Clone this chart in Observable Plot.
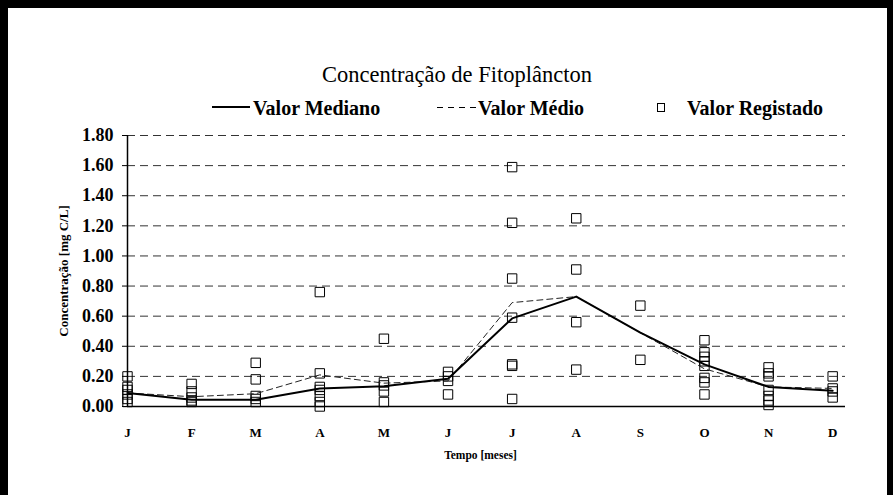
<!DOCTYPE html>
<html><head><meta charset="utf-8">
<script src="https://cdn.jsdelivr.net/npm/d3@7"></script>
<script src="https://cdn.jsdelivr.net/npm/@observablehq/plot@0.6"></script>
<style>
body{margin:0;background:#fff;}
#wrap{position:relative;width:893px;height:495px;overflow:hidden;font-family:"Liberation Serif",serif;color:#000;}
#frame{position:absolute;left:0;top:0;width:893px;height:495px;box-sizing:border-box;border-left:8px solid #000;border-top:8px solid #000;border-right:6px solid #000;pointer-events:none;}
#title{position:absolute;top:62px;left:257px;width:400px;text-align:center;font-size:22.5px;line-height:26px;}
.lg{position:absolute;top:97px;font-size:20px;line-height:23px;font-weight:bold;white-space:nowrap;}
.sw{position:absolute;}
#chart{position:absolute;left:0;top:120px;}
</style></head>
<body>
<div id="wrap">
  <div id="title">Concentração de Fitoplâncton</div>
  <div class="sw" style="left:212px;top:106px;width:38px;height:0;border-top:2px solid #000;"></div>
  <div class="lg" style="left:253px;">Valor Mediano</div>
  <div class="sw" style="left:437px;top:107px;width:41px;height:1px;background:repeating-linear-gradient(90deg,#000 0 6px,transparent 6px 11px);"></div>
  <div class="lg" style="left:478px;">Valor Médio</div>
  <div class="sw" style="left:657px;top:103px;width:6px;height:7px;border:1px solid #000;"></div>
  <div class="lg" style="left:687px;">Valor Registado</div>
  <div id="chart"></div>
  <div id="frame"></div>
</div>
<script>
const months = ["J","F","M","A","M","J","J","A","S","O","N","D"];
const yTicks = [0, 0.2, 0.4, 0.6, 0.8, 1.0, 1.2, 1.4, 1.6, 1.8];
const medianValues = [0.09, 0.045, 0.045, 0.12, 0.135, 0.185, 0.585, 0.73, 0.49, 0.28, 0.13, 0.105];
const meanValues   = [0.09, 0.065, 0.085, 0.21, 0.155, 0.17, 0.69, 0.73, 0.49, 0.25, 0.13, 0.12];
const registered = [
  [0.20, 0.13, 0.11, 0.08, 0.05, 0.03],
  [0.15, 0.10, 0.06, 0.04, 0.03],
  [0.29, 0.18, 0.07, 0.05, 0.03],
  [0.76, 0.22, 0.13, 0.11, 0.07, 0.03, 0.00],
  [0.45, 0.16, 0.14, 0.10, 0.03],
  [0.23, 0.20, 0.17, 0.08],
  [1.59, 1.22, 0.85, 0.59, 0.28, 0.27, 0.05],
  [1.25, 0.91, 0.56, 0.245],
  [0.67, 0.31],
  [0.44, 0.36, 0.33, 0.30, 0.27, 0.19, 0.16, 0.08],
  [0.26, 0.22, 0.20, 0.11, 0.07, 0.04, 0.01],
  [0.20, 0.12, 0.10, 0.06]
];

const series = months.map((m, i) => ({i, median: medianValues[i], mean: meanValues[i]}));
const points = registered.flatMap((vals, i) => vals.map(v => ({i, v})));

const chart = Plot.plot({
  width: 893,
  height: 375,
  marginLeft: 127,
  marginRight: 48,
  marginTop: 15,
  marginBottom: 89,
  style: {fontFamily: "Liberation Serif", background: "transparent", color: "#000"},
  x: {domain: [0, 11.2]},
  y: {domain: [0, 1.8]},
  marks: [
    Plot.ruleY(yTicks.filter(d => d > 0), {stroke: "#333", strokeWidth: 1, strokeDasharray: "8,5"}),
    Plot.axisY({ticks: yTicks, tickFormat: d => d.toFixed(2), tickSize: 5, tickPadding: 9, fontSize: 18, fontWeight: "bold", label: null}),
    Plot.axisX({ticks: d3.range(12), tickFormat: i => months[i], tickSize: 0, tickPadding: 21, fontSize: 13, fontWeight: "bold", label: null}),
    Plot.text(["Tempo [meses]"], {text: d => d, frameAnchor: "bottom", dx: -6, dy: 52, fontSize: 11.5, fontWeight: "bold"}),
    Plot.text(["Concentração [mg C/L]"], {text: d => d, frameAnchor: "left", textAnchor: "middle", dx: -64, rotate: -90, fontSize: 13, fontWeight: "bold"}),
    Plot.dot(points, {x: "i", y: "v", symbol: "square", r: 5.3, stroke: "#000", strokeWidth: 1, fill: "none"}),
    Plot.line(series, {x: "i", y: "mean", stroke: "#222", strokeWidth: 1, strokeDasharray: "6,4"}),
    Plot.line(series, {x: "i", y: "median", stroke: "#000", strokeWidth: 2}),
    Plot.ruleY([0], {stroke: "#000", strokeWidth: 1.5}),
    Plot.ruleX([0], {stroke: "#000", strokeWidth: 1.5})
  ]
});
document.getElementById("chart").appendChild(chart);
</script>
</body></html>
